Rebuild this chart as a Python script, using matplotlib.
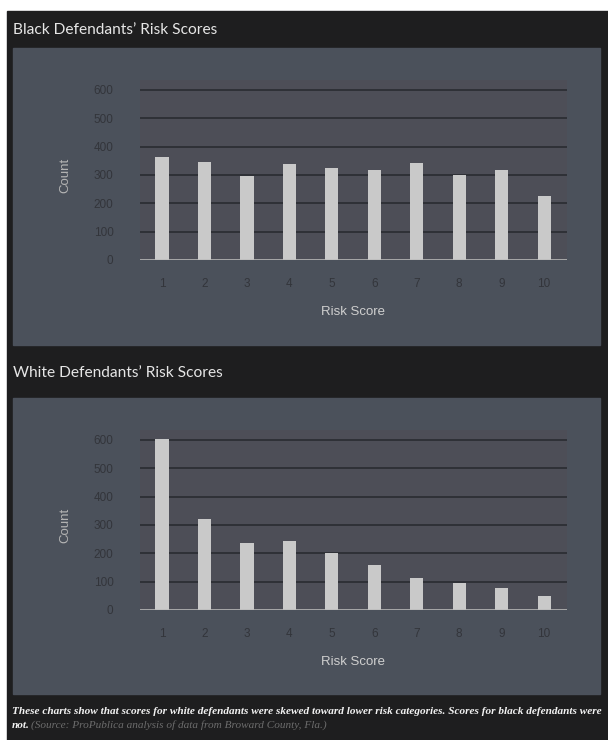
import matplotlib.pyplot as plt
from matplotlib.patches import Rectangle

scores = [1, 2, 3, 4, 5, 6, 7, 8, 9, 10]
black_counts = [365, 346, 298, 337, 323, 318, 343, 301, 317, 227]
white_counts = [605, 321, 238, 243, 200, 160, 113, 96, 77, 50]
yticks = [0, 100, 200, 300, 400, 500, 600]

W, H = 608, 740
fig = plt.figure(figsize=(W / 100, H / 100), dpi=100, facecolor='white')
plt.rcParams['font.family'] = ['Liberation Sans', 'DejaVu Sans']

def box(x0, y0, x1, y1, color):
    # pixel coords measured from top-left
    fig.patches.append(Rectangle((x0 / W, 1 - y1 / H), (x1 - x0) / W, (y1 - y0) / H,
                                 transform=fig.transFigure, color=color, zorder=-5))

box(7, 11, 608, 740, '#1e1e1f')
box(13, 48, 600, 345, '#4b515b')
box(13, 398, 600, 694, '#4b515b')

title_font = ['Lato', 'DejaVu Sans']
cap_font = ['Liberation Serif', 'DejaVu Serif']

def panel(top_px, counts, title, title_y):
    # axes area in pixels
    left, right = 140, 567
    bottom = top_px + 180
    ax = fig.add_axes([left / W, 1 - bottom / H, (right - left) / W, 180 / H])
    ax.set_facecolor('#4d4e57')
    ax.bar(scores, counts, width=0.31, color='#c9c9c9', zorder=3)
    ax.set_xlim(0.48, 10.54)
    ax.set_ylim(0, 635)
    ax.set_yticks(yticks)
    ax.set_xticks(scores)
    ax.yaxis.grid(True, color='#2a2c31', lw=1.2, zorder=1)
    ax.axhline(0, color='#bdbdbd', lw=1.2, zorder=4)
    for s in ax.spines.values():
        s.set_visible(False)
    ax.tick_params(length=0, labelsize=8.5, colors='#33353b')
    ax.tick_params(axis='y', pad=19)
    ax.tick_params(axis='x', pad=13)
    ax.set_axisbelow(True)
    fig.text(65 / W, 1 - (bottom - 85) / H, 'Count', rotation=90, ha='center', va='center',
             fontsize=9.5, color='#b4b4b4')
    fig.text(353 / W, 1 - (bottom + 52) / H, 'Risk Score', ha='center', va='center',
             fontsize=9.5, color='#cfcfcf')
    fig.text(13 / W, 1 - title_y / H, title, ha='left', va='center', fontsize=11.2,
             color='#e6e6e6', family=title_font)
    return ax

panel(80, black_counts, 'Black Defendants\u2019 Risk Scores', 30)
panel(430, white_counts, 'White Defendants\u2019 Risk Scores', 373)

cap = ('These charts show that scores for white defendants were skewed toward lower risk '
       'categories. Scores for black defendants were')
fig.text(12 / W, 1 - 712 / H, cap, ha='left', va='center', fontsize=8.1, style='italic',
         weight='bold', color='#f2f2f2', family=cap_font)
fig.text(12 / W, 1 - 725 / H, 'not.', ha='left', va='center', fontsize=8.1, style='italic',
         weight='bold', color='#f2f2f2', family=cap_font)
fig.text(31 / W, 1 - 725 / H, '(Source: ProPublica analysis of data from Broward County, Fla.)',
         ha='left', va='center', fontsize=8.1, style='italic', color='#6c6c6c',
         family=cap_font)

fig.savefig('out.png', dpi=100, facecolor='white')
